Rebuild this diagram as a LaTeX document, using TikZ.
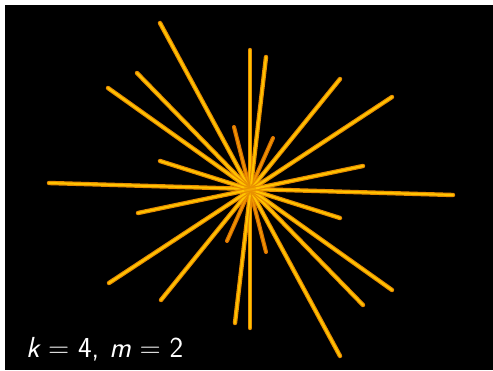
\documentclass[tikz,border=0pt]{standalone}
\usepackage{fontspec}
\definecolor{rayout}{RGB}{232,140,0}
\definecolor{rayin}{RGB}{255,196,0}
\definecolor{srayout}{RGB}{215,110,0}
\definecolor{srayin}{RGB}{240,150,0}
\definecolor{core}{RGB}{235,150,0}
\begin{document}
\begin{tikzpicture}[x=1pt,y=-1pt,
  ray/.style={draw=rayout, double=rayin, line width=1.2pt, double distance=2pt, line cap=round},
  sray/.style={draw=srayout, double=srayin, line width=1.2pt, double distance=1.7pt, line cap=round},
  lbl/.style={text=white, font=\sffamily\fontsize{29}{32}\selectfont, inner sep=0pt, anchor=base west}]
\useasboundingbox (0,0) rectangle (493,370);
\fill[white] (0,0) rectangle (493,370);
\fill[black] (5,5) rectangle (493,370);
% short rays (behind)
\coordinate (s1a) at (234,127); \coordinate (s1b) at (266,252);
\coordinate (s2a) at (273,138); \coordinate (s2b) at (227,241);
\draw[sray] (s1a) -- (s1b);
\draw[sray] (s2a) -- (s2b);
% long rays
\coordinate (a1) at (160,23);  \coordinate (b1) at (340,356);
\coordinate (a2) at (250,50);  \coordinate (b2) at (250,328);
\coordinate (a3) at (266,57);  \coordinate (b3) at (235,323);
\coordinate (a4) at (137,73);  \coordinate (b4) at (363,305);
\coordinate (a5) at (108,88);  \coordinate (b5) at (392,290);
\coordinate (a6) at (340,79);  \coordinate (b6) at (161,300);
\coordinate (a7) at (392,97);  \coordinate (b7) at (109,283);
\coordinate (a8) at (49,183);  \coordinate (b8) at (453,195);
\coordinate (a9) at (160,161); \coordinate (b9) at (340,218);
\coordinate (a10) at (363,166); \coordinate (b10) at (138,213);
\foreach \i in {1,...,10} {\draw[ray] (a\i) -- (b\i);}
\fill[core, opacity=0.6] (250,189.5) circle (6);
\node[lbl] (t) at (26,357) {{\itshape k}\hspace{0.3em}=\hspace{0.3em}4,\hspace{0.35em}{\itshape m}\hspace{0.3em}=\hspace{0.3em}2};
\end{tikzpicture}
\end{document}
